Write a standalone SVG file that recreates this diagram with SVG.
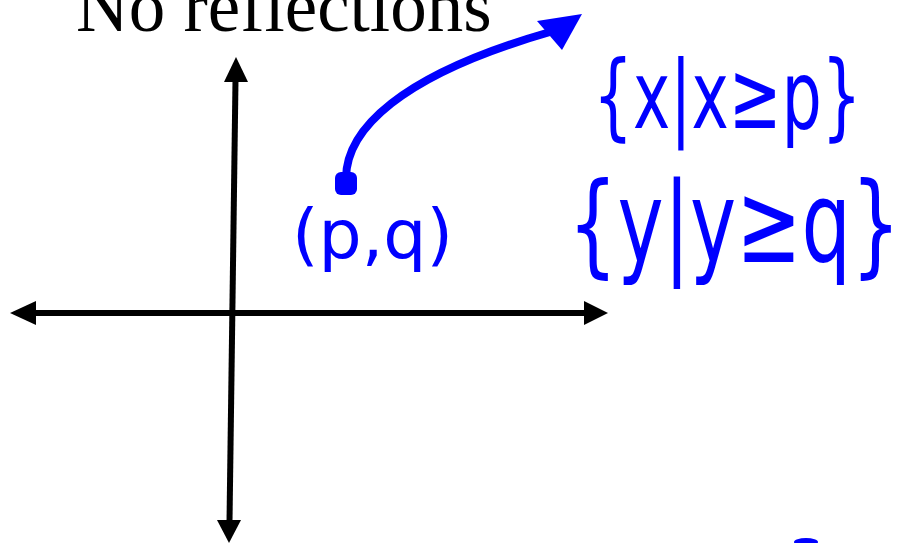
<svg xmlns="http://www.w3.org/2000/svg" width="905" height="543" viewBox="0 0 905 543">
<style>
.axis{stroke:#000;stroke-width:6;fill:none}
.ink{fill:#0000ff;font-family:"DejaVu Sans",sans-serif}
.title{font-family:"Liberation Serif",serif;font-size:73px;fill:#000}
</style>
<rect width="905" height="543" fill="#fff"/>
<text class="title" x="76" y="31">No reflections</text>
<g id="connectors">
<line class="axis" x1="34" y1="313" x2="586" y2="313"/>
<path d="M10,313 L36,301 L36,325 Z"/>
<path d="M608,313 L584,301 L584,325 Z"/>
<line class="axis" x1="235.5" y1="80" x2="229.5" y2="522"/>
<path d="M236,57 L224,82 L248,82 Z"/>
<path d="M229,543 L217,520 L241,520 Z"/>
<path d="M346,180 C345,130 400,75 550,32" fill="none" stroke="#0000ff" stroke-width="8" stroke-linecap="round"/>
<path d="M537,21 L582,14 L562,50 Z" fill="#0000ff"/>
<rect x="335" y="172" width="22" height="23" rx="6" fill="#0000ff"/>
<ellipse cx="806" cy="542" rx="12" ry="4" fill="#0000ff"/>
</g>
<g id="point-label">
<text class="ink" x="292" y="258" font-size="68">(p,q)</text>
</g>
<g id="x-domain">
<text class="ink" transform="translate(593,128) scale(1,1.5)" x="0" y="0" font-size="63">{x|x≥p}</text>
</g>
<g id="y-range">
<text class="ink" transform="translate(568,262) scale(1,1.45)" x="0" y="0" font-size="78">{y|y≥q}</text>
</g>
</svg>
